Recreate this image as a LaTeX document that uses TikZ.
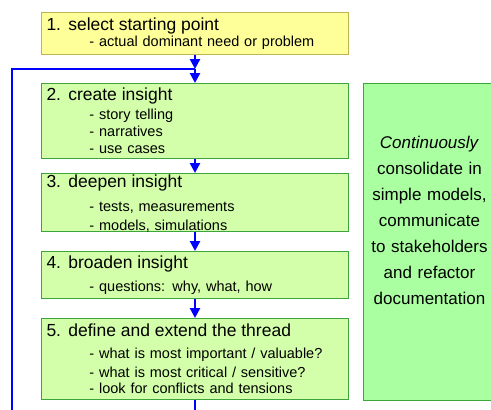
\documentclass[tikz,border=0pt]{standalone}
\usepackage{fontspec}
\setmainfont{Liberation Sans}
\usepackage{xcolor}
\usepackage{tikz}
\usetikzlibrary{positioning,calc,arrows.meta}
\definecolor{StartYellow}{RGB}{255,255,153}
\definecolor{StartEdge}{RGB}{190,180,80}
\definecolor{StepGreen}{RGB}{212,255,170}
\definecolor{SideGreen}{RGB}{170,255,160}
\definecolor{EdgeGreen}{RGB}{60,165,60}
\definecolor{LoopBlue}{RGB}{0,0,255}
\newcommand{\steptitle}[1]{{\fontsize{17.5}{17}\selectfont #1}}
\newcommand{\stepitem}[1]{\hspace*{43pt}- #1}
\tikzset{
    stepbox/.style={rectangle, draw=EdgeGreen, fill=StepGreen, line width=1pt,
        minimum width=307pt, text width=297pt, inner xsep=5pt, inner ysep=0pt,
        align=left, font=\fontsize{14.5}{17}\selectfont},
    startbox/.style={stepbox, draw=StartEdge, fill=StartYellow},
    sidebox/.style={rectangle, draw=EdgeGreen, fill=SideGreen, line width=1pt,
        minimum height=317pt, text width=122pt, inner xsep=5pt,
        align=center, font=\fontsize{17}{26}\selectfont},
    flow/.style={draw=LoopBlue, line width=2.5pt},
    flowarrow/.style={flow, -{Triangle[width=10pt,length=10pt]}}
}
\begin{document}
\begin{tikzpicture}[x=1pt, y=-1pt]
    \useasboundingbox (0,0) rectangle (491,410);

    % --- STEPS ---
    % 1: starting point
    \node[startbox, minimum height=42pt, anchor=north west] (b1) at (41,12)
        {\steptitle{1. select starting point}\\[-1pt]
         \stepitem{actual dominant need or problem}};
    % 2: create insight
    \node[stepbox, minimum height=75pt, below=28pt of b1] (b2)
        {\steptitle{2. create insight}\\[2pt]
         \stepitem{story telling}\\
         \stepitem{narratives}\\
         \stepitem{use cases}};
    % 3: deepen insight
    \node[stepbox, minimum height=58pt, below=14pt of b2, text depth=42pt] (b3)
        {\steptitle{3. deepen insight}\\[7pt]
         \stepitem{tests, measurements}\\[2pt]
         \stepitem{models, simulations}};
    % 4: broaden insight
    \node[stepbox, minimum height=47pt, below=19pt of b3] (b4)
        {\steptitle{4. broaden insight}\\[6pt]
         \stepitem{questions: why, what, how}};
    % 5: define the thread
    \node[stepbox, minimum height=81pt, below=19pt of b4] (b5)
        {\steptitle{5. define and extend the thread}\\[5pt]
         \stepitem{what is most important / valuable?}\\[2pt]
         \stepitem{what is most critical / sensitive?}\\[-1pt]
         \stepitem{look for conflicts and tensions}};

    % --- SIDE NOTE ---
    \node[sidebox, right=14pt of b2.north east, anchor=north west, text depth=200pt] (side)
        {\textit{Continuously}\\ consolidate in\\ simple models,\\ communicate\\
         to stakeholders\\ and refactor\\ documentation};

    % --- FLOW ---
    \coordinate (join) at ($(b1.south)+(0,14)$);
    \coordinate (back) at (12,425);
    \draw[flowarrow] (b1) -- (join);
    \draw[flowarrow] (join) -- (b2);
    \draw[flowarrow] (b2) -- (b3);
    \draw[flowarrow] (b3) -- (b4);
    \draw[flowarrow] (b4) -- (b5);
    % loop back to the top
    \draw[flow] (b5) |- (back) |- (join);
\end{tikzpicture}
\end{document}
